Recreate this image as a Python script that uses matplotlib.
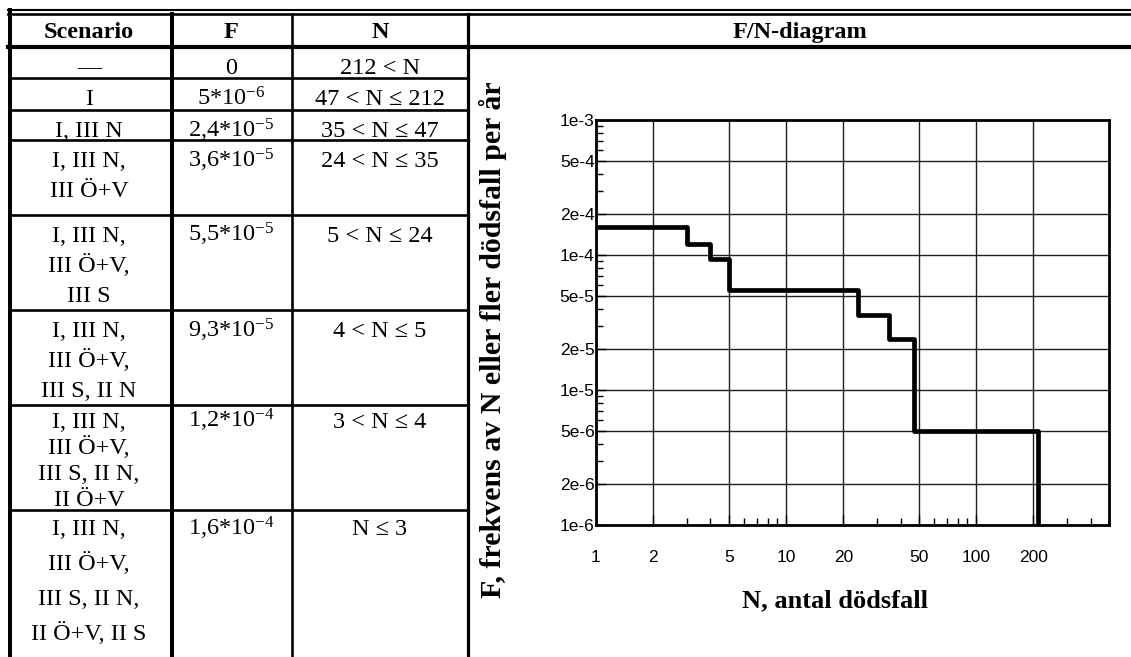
import numpy as np
import matplotlib.pyplot as plt
from matplotlib.ticker import FixedLocator, FixedFormatter, LogLocator, NullFormatter

plt.rcParams['font.family'] = ['Liberation Serif', 'DejaVu Serif']
plt.rcParams['mathtext.default'] = 'regular'

# Table contents (one entry per row)
scenario = ["—", "I", "I, III N", "I, III N,\nIII Ö+V",
            "I, III N,\nIII Ö+V,\nIII S",
            "I, III N,\nIII Ö+V,\nIII S, II N",
            "I, III N,\nIII Ö+V,\nIII S, II N,\nII Ö+V",
            "I, III N,\nIII Ö+V,\nIII S, II N,\nII Ö+V, II S"]
f_text = ["0", "5*10$^{-6}$", "2,4*10$^{-5}$", "3,6*10$^{-5}$",
          "5,5*10$^{-5}$", "9,3*10$^{-5}$", "1,2*10$^{-4}$", "1,6*10$^{-4}$"]
n_text = ["212 < N", "47 < N ≤ 212", "35 < N ≤ 47", "24 < N ≤ 35",
          "5 < N ≤ 24", "4 < N ≤ 5", "3 < N ≤ 4", "N ≤ 3"]

# F/N curve: frequency F from N = n_start onwards
n_start = [1, 3, 4, 5, 24, 35, 47, 212]
f_value = [1.6e-4, 1.2e-4, 9.3e-5, 5.5e-5, 3.6e-5, 2.4e-5, 5e-6, 0]

x_ticks = [1, 2, 5, 10, 20, 50, 100, 200]
y_ticks = [1e-3, 5e-4, 2e-4, 1e-4, 5e-5, 2e-5, 1e-5, 5e-6, 2e-6, 1e-6]
y_labels = ["1e-3", "5e-4", "2e-4", "1e-4", "5e-5", "2e-5", "1e-5",
            "5e-6", "2e-6", "1e-6"]

W, H = 1131, 657
fig = plt.figure(figsize=(W / 100, H / 100), dpi=100)

# background axes in pixel units for the table
tab = fig.add_axes([0, 0, 1, 1])
tab.set_xlim(0, W)
tab.set_ylim(H, 0)
tab.axis('off')

row_top = [47, 78, 110, 140, 215, 310, 405, 510]
first_base = [27, 27, 27, 27, 27, 27, 23, 25]
line_gap = [30, 30, 30, 30, 30, 30, 26, 35]
col_x = [9.5, 172, 292, 468]
col_mid = [89, 231, 380]
fs = 17.5

# rules
tab.plot([8, W], [10.3, 10.3], color='k', lw=1.5)
tab.plot([8, W], [14, 14], color='k', lw=1.9)
tab.plot([8, W], [47, 47], color='k', lw=3.0)
tab.plot([col_x[0], col_x[0]], [10.3, H], color='k', lw=2.9)
tab.plot([col_x[1], col_x[1]], [14, H], color='k', lw=2.9)
tab.plot([col_x[2], col_x[2]], [14, H], color='k', lw=1.9)
tab.plot([col_x[3], col_x[3]], [14, H], color='k', lw=2.3)
for y in row_top[1:]:
    tab.plot([col_x[0], col_x[3]], [y, y], color='k', lw=1.9)

# header
for txt, x in zip(["Scenario", "F", "N"], col_mid):
    tab.text(x, 38, txt, ha='center', va='baseline', fontsize=fs, fontweight='bold')
tab.text(800, 38, "F/N-diagram", ha='center', va='baseline', fontsize=fs,
         fontweight='bold')

# body
for top, fb, gap, sc, ft, nt in zip(row_top, first_base, line_gap,
                                    scenario, f_text, n_text):
    base = top + fb
    for k, line in enumerate(sc.split("\n")):
        tab.text(col_mid[0], base + gap * k, line, ha='center', va='baseline',
                 fontsize=fs)
    tab.text(col_mid[1], base, ft, ha='center', va='baseline', fontsize=fs)
    tab.text(col_mid[2], base, nt, ha='center', va='baseline', fontsize=fs)

# diagram
ax_l, ax_r, ax_t, ax_b = 596, 1109, 120, 525
ax = fig.add_axes([ax_l / W, (H - ax_b) / H, (ax_r - ax_l) / W, (ax_b - ax_t) / H])
ax.set_xscale('log')
ax.set_yscale('log')
ax.set_xlim(1, 500)
ax.set_ylim(1e-6, 1e-3)

floor = ax.get_ylim()[0]
ax.step(n_start, np.maximum(f_value, floor), where='post', color='k', lw=3.4,
        zorder=4)

ax.xaxis.set_major_locator(FixedLocator(x_ticks))
ax.xaxis.set_major_formatter(FixedFormatter([str(v) for v in x_ticks]))
ax.xaxis.set_minor_locator(LogLocator(base=10, subs=np.arange(2, 10), numticks=20))
ax.xaxis.set_minor_formatter(NullFormatter())
ax.yaxis.set_major_locator(FixedLocator(y_ticks))
ax.yaxis.set_major_formatter(FixedFormatter(y_labels))
ax.yaxis.set_minor_locator(LogLocator(base=10, subs=np.arange(2, 10), numticks=20))
ax.yaxis.set_minor_formatter(NullFormatter())

ax.grid(True, which='major', color='#202020', lw=1.0)
ax.tick_params(which='both', direction='in', top=False, right=False, width=1.0)
ax.tick_params(which='major', length=7)
ax.tick_params(which='minor', length=5)
ax.tick_params(axis='x', pad=18)
ax.tick_params(axis='y', pad=1)
for lab in ax.get_xticklabels() + ax.get_yticklabels():
    lab.set_family('Liberation Sans')
    lab.set_fontsize(12.5)
for s in ax.spines.values():
    s.set_linewidth(2.0)
    s.set_zorder(5)

tab.text(493, 340, "F, frekvens av N eller fler dödsfall per år", rotation=90,
         ha='center', va='center', fontsize=21.5, fontweight='bold')
tab.text(835, 601, "N, antal dödsfall", ha='center', va='center', fontsize=19,
         fontweight='bold')

fig.savefig('out.png', dpi=100)
